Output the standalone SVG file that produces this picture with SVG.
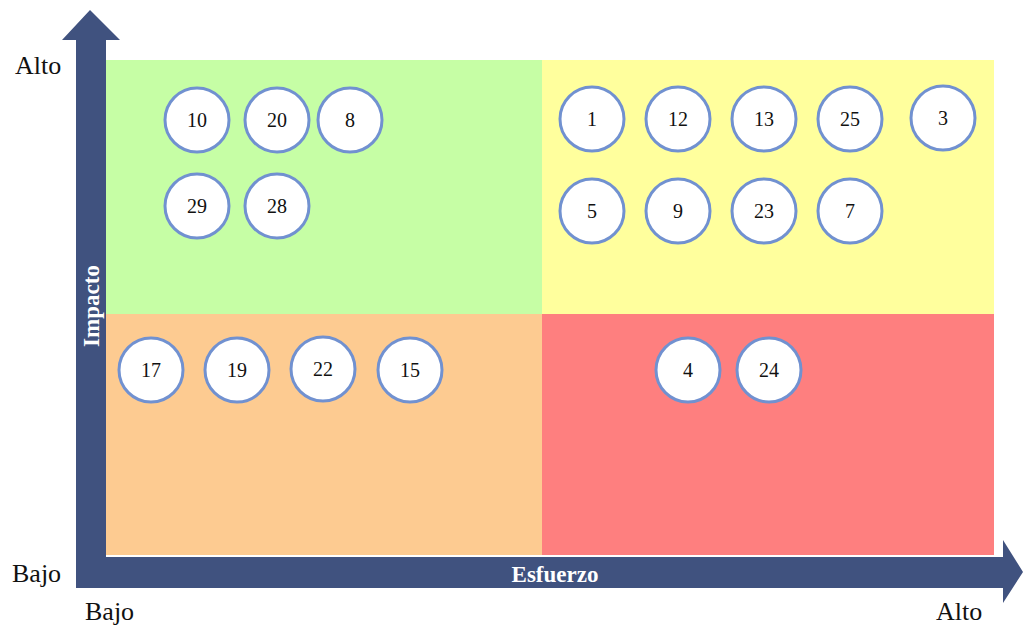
<svg xmlns="http://www.w3.org/2000/svg" width="1023" height="628" viewBox="0 0 1023 628">
<style>
.c{fill:#fff;stroke:#7191d0;stroke-width:3}
.n{font-family:"Liberation Serif",serif;font-size:20px;fill:#111;text-anchor:middle;dominant-baseline:central}
.lab{font-family:"Liberation Serif",serif;font-size:26px;fill:#111}
.ax{font-family:"Liberation Serif",serif;font-size:23px;font-weight:bold;fill:#fff;text-anchor:middle}
</style>
<rect width="1023" height="628" fill="#fff"/>
<g id="quadrants">
<rect x="106" y="60" width="436" height="254" fill="#c6fea5"/>
<rect x="542" y="60" width="452" height="254" fill="#ffff9d"/>
<rect x="106" y="314" width="436" height="241" fill="#fdcb91"/>
<rect x="542" y="314" width="452" height="241" fill="#fe7f7f"/>
</g>
<g id="axes">
<path d="M76,588 L76,40 L62,40 L90,10 L120,40 L106,40 L106,557 L1003,557 L1003,540 L1023,572 L1003,603 L1003,588 Z" fill="#40527f"/>
<text class="ax" transform="translate(99,306) rotate(-90)">Impacto</text>
<text class="ax" x="555" y="582">Esfuerzo</text>
</g>
<g id="labels">
<text class="lab" x="15" y="74">Alto</text>
<text class="lab" x="12" y="582">Bajo</text>
<text class="lab" x="85" y="620">Bajo</text>
<text class="lab" x="936" y="620">Alto</text>
</g>
<g id="n10"><circle class="c" cx="197" cy="120" r="32"/><text class="n" x="197" y="120">10</text></g>
<g id="n20"><circle class="c" cx="277" cy="120" r="32"/><text class="n" x="277" y="120">20</text></g>
<g id="n8"><circle class="c" cx="350" cy="120" r="32"/><text class="n" x="350" y="120">8</text></g>
<g id="n29"><circle class="c" cx="197" cy="206" r="32"/><text class="n" x="197" y="206">29</text></g>
<g id="n28"><circle class="c" cx="277" cy="206" r="32"/><text class="n" x="277" y="206">28</text></g>
<g id="n1"><circle class="c" cx="592" cy="119" r="32"/><text class="n" x="592" y="119">1</text></g>
<g id="n12"><circle class="c" cx="678" cy="119" r="32"/><text class="n" x="678" y="119">12</text></g>
<g id="n13"><circle class="c" cx="764" cy="119" r="32"/><text class="n" x="764" y="119">13</text></g>
<g id="n25"><circle class="c" cx="850" cy="119" r="32"/><text class="n" x="850" y="119">25</text></g>
<g id="n3"><circle class="c" cx="943" cy="118" r="32"/><text class="n" x="943" y="118">3</text></g>
<g id="n5"><circle class="c" cx="592" cy="211" r="32"/><text class="n" x="592" y="211">5</text></g>
<g id="n9"><circle class="c" cx="678" cy="211" r="32"/><text class="n" x="678" y="211">9</text></g>
<g id="n23"><circle class="c" cx="764" cy="211" r="32"/><text class="n" x="764" y="211">23</text></g>
<g id="n7"><circle class="c" cx="850" cy="211" r="32"/><text class="n" x="850" y="211">7</text></g>
<g id="n17"><circle class="c" cx="151" cy="370" r="32"/><text class="n" x="151" y="370">17</text></g>
<g id="n19"><circle class="c" cx="237" cy="370" r="32"/><text class="n" x="237" y="370">19</text></g>
<g id="n22"><circle class="c" cx="323" cy="369" r="32"/><text class="n" x="323" y="369">22</text></g>
<g id="n15"><circle class="c" cx="410" cy="370" r="32"/><text class="n" x="410" y="370">15</text></g>
<g id="n4"><circle class="c" cx="688" cy="370" r="32"/><text class="n" x="688" y="370">4</text></g>
<g id="n24"><circle class="c" cx="769" cy="370" r="32"/><text class="n" x="769" y="370">24</text></g>
</svg>
